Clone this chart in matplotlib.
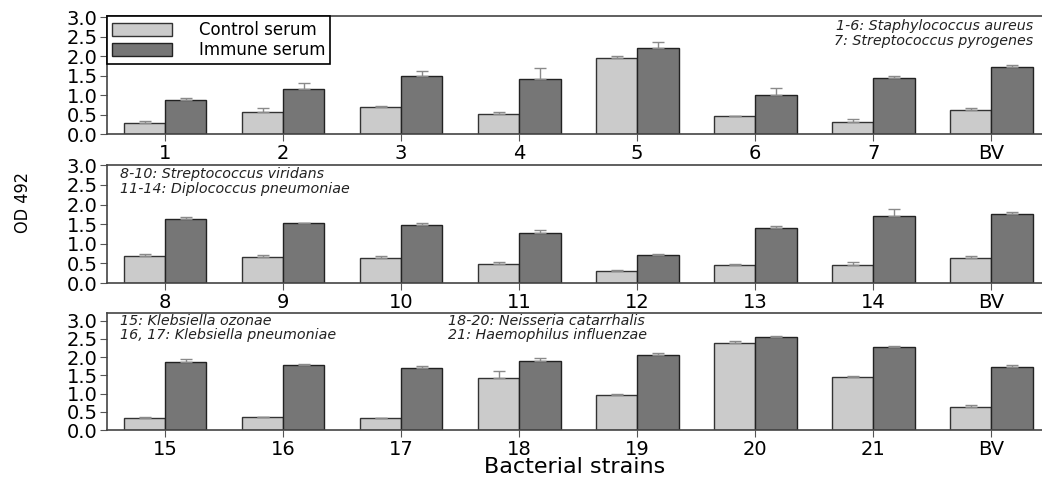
import matplotlib
matplotlib.use("Agg")
import matplotlib.pyplot as plt
import numpy as np

# valeurs (OD 492)
labels_1 = ["1", "2", "3", "4", "5", "6", "7", "BV"]
control_1 = [0.29, 0.57, 0.69, 0.51, 1.94, 0.46, 0.30, 0.62]
control_err_1 = [0.04, 0.09, 0.03, 0.06, 0.06, 0.01, 0.08, 0.06]
immune_1 = [0.87, 1.15, 1.48, 1.42, 2.22, 1.00, 1.45, 1.73]
immune_err_1 = [0.05, 0.16, 0.14, 0.27, 0.13, 0.17, 0.04, 0.05]

labels_2 = ["8", "9", "10", "11", "12", "13", "14", "BV"]
control_2 = [0.70, 0.67, 0.64, 0.48, 0.31, 0.46, 0.46, 0.65]
control_err_2 = [0.05, 0.04, 0.04, 0.05, 0.02, 0.02, 0.07, 0.05]
immune_2 = [1.62, 1.53, 1.49, 1.27, 0.72, 1.40, 1.70, 1.76]
immune_err_2 = [0.07, 0.01, 0.05, 0.09, 0.02, 0.05, 0.18, 0.04]

labels_3 = ["15", "16", "17", "18", "19", "20", "21", "BV"]
control_3 = [0.34, 0.36, 0.32, 1.43, 0.96, 2.39, 1.45, 0.63]
control_err_3 = [0.01, 0.01, 0.02, 0.19, 0.03, 0.05, 0.02, 0.05]
immune_3 = [1.87, 1.79, 1.70, 1.90, 2.06, 2.55, 2.28, 1.74]
immune_err_3 = [0.08, 0.03, 0.06, 0.08, 0.06, 0.02, 0.02, 0.05]

ylims = [3.02, 3.0, 3.2]

notes_1 = ["1-6: Staphylococcus aureus", "7: Streptococcus pyrogenes"]
notes_2 = ["8-10: Streptococcus viridans", "11-14: Diplococcus pneumoniae"]
notes_3a = ["15: Klebsiella ozonae", "16, 17: Klebsiella pneumoniae"]
notes_3b = ["18-20: Neisseria catarrhalis", "21: Haemophilus influenzae"]

cor_controle = "#cbcbcb"
cor_imune = "#767676"
largura = 0.35

fig = plt.figure(figsize=(10.42, 4.79), dpi=100)
posicoes = [[0.103, 0.720, 0.897, 0.246],
            [0.103, 0.409, 0.897, 0.246],
            [0.103, 0.102, 0.897, 0.244]]

dados = [(labels_1, control_1, control_err_1, immune_1, immune_err_1),
         (labels_2, control_2, control_err_2, immune_2, immune_err_2),
         (labels_3, control_3, control_err_3, immune_3, immune_err_3)]

eixos = []
for i, (lab, c, ce, im, ie) in enumerate(dados):
    ax = fig.add_axes(posicoes[i])
    x = np.arange(len(lab))
    zeros = np.zeros(len(lab))
    ax.bar(x - largura / 2, c, largura, color=cor_controle, edgecolor="#333333",
           linewidth=1.0, yerr=[zeros, ce], ecolor="#8a8a8a", capsize=4,
           error_kw={"elinewidth": 1.0, "capthick": 1.0}, label="Control serum")
    ax.bar(x + largura / 2, im, largura, color=cor_imune, edgecolor="#222222",
           linewidth=1.0, yerr=[zeros, ie], ecolor="#8a8a8a", capsize=4,
           error_kw={"elinewidth": 1.0, "capthick": 1.0}, label="Immune serum")
    ax.set_xlim(-0.49, 7.43)
    ax.set_ylim(0, ylims[i])
    ax.set_yticks([0, 0.5, 1.0, 1.5, 2.0, 2.5, 3.0])
    ax.set_yticklabels(["0.0", "0.5", "1.0", "1.5", "2.0", "2.5", "3.0"])
    ax.set_xticks(x)
    ax.set_xticklabels(lab)
    ax.tick_params(axis="both", labelsize=14, length=5, direction="out",
                   color="#555555")
    ax.tick_params(axis="x", pad=2)
    ax.tick_params(axis="y", pad=2)
    ax.spines["right"].set_visible(False)
    for s in ["left", "top", "bottom"]:
        ax.spines[s].set_color("#444444")
        ax.spines[s].set_linewidth(1.2)
    eixos.append(ax)

# legenda no primeiro painel
leg = eixos[0].legend(loc="upper left", borderaxespad=0, fancybox=False,
                      edgecolor="black", framealpha=1, fontsize=12,
                      handlelength=3.6, handleheight=0.75, handletextpad=1.6,
                      borderpad=0.3, labelspacing=0.12)
leg.get_frame().set_linewidth(1.2)

# notas com os nomes das bactérias
estilo = dict(style="italic", fontsize=10.3, color="#222222", linespacing=1.05)
eixos[0].text(0.99, 0.975, "\n".join(notes_1), transform=eixos[0].transAxes,
              ha="right", va="top", **estilo)
eixos[1].text(0.014, 0.985, "\n".join(notes_2), transform=eixos[1].transAxes,
              ha="left", va="top", **estilo)
eixos[2].text(0.014, 0.995, "\n".join(notes_3a), transform=eixos[2].transAxes,
              ha="left", va="top", **estilo)
eixos[2].text(0.364, 0.995, "\n".join(notes_3b), transform=eixos[2].transAxes,
              ha="left", va="top", **estilo)

eixos[2].set_xlabel("Bacterial strains", fontsize=16, labelpad=-1)
fig.text(0.022, 0.578, "OD 492", rotation=90, ha="center", va="center",
         fontsize=13, fontstretch="condensed")

fig.savefig("out.png", dpi=100)
